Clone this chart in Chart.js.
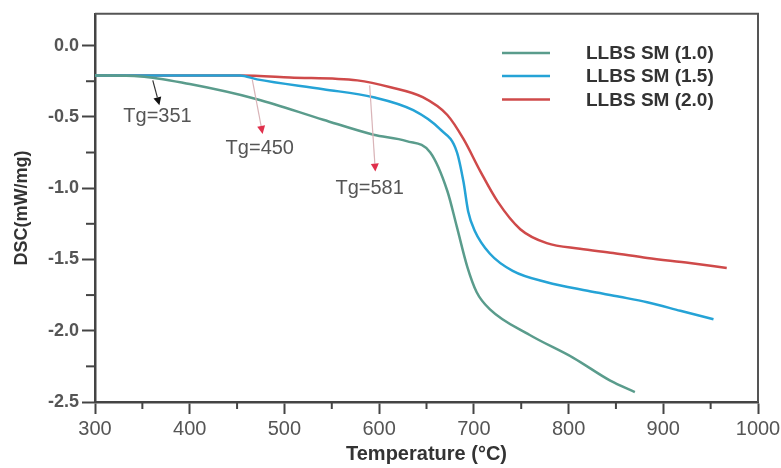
<!DOCTYPE html>
<html>
<head>
<meta charset="utf-8">
<title>DSC</title>
<script src="https://cdn.jsdelivr.net/npm/chart.js@4.4.0/dist/chart.umd.min.js"></script>
<style>
  html, body { margin: 0; padding: 0; background: #fff; }
</style>
</head>
<body>
<canvas id="dsc-chart" width="781" height="468"></canvas>
<script>
/* ── Data ─────────────────────────────────────────────────── */

const seriesLabels = ['LLBS SM (1.0)', 'LLBS SM (1.5)', 'LLBS SM (2.0)'];
const seriesColors = ['#5a9c8c', '#25a3d6', '#cf4a4a'];

// LLBS SM (1.0)
const temp10 = [300, 348, 400, 471, 541, 594, 629, 654, 672, 682, 693, 703, 717, 759, 805, 844, 870];
const dsc10  = [-0.21, -0.216, -0.27, -0.376, -0.52, -0.625, -0.67, -0.75, -1.02, -1.27, -1.55, -1.73, -1.85, -2.03, -2.19, -2.35, -2.43];

// LLBS SM (1.5)
const temp15 = [300, 453, 471, 541, 594, 636, 664, 682, 689, 694, 701, 717, 741, 777, 820, 854, 883, 918, 953];
const dsc15  = [-0.21, -0.21, -0.237, -0.306, -0.362, -0.453, -0.585, -0.745, -0.954, -1.163, -1.30, -1.46, -1.58, -1.66, -1.72, -1.762, -1.80, -1.86, -1.92];

// LLBS SM (2.0)
const temp20 = [300, 453, 506, 577, 612, 646, 672, 689, 707, 725, 749, 777, 812, 847, 883, 928, 967];
const dsc20  = [-0.21, -0.21, -0.223, -0.244, -0.292, -0.362, -0.487, -0.655, -0.884, -1.093, -1.288, -1.386, -1.425, -1.455, -1.49, -1.525, -1.56];

const xTicksMajor = [300, 400, 500, 600, 700, 800, 900, 1000];
const xTicksMinor = [350, 450, 550, 650, 750, 850, 950];
const yTicksMajor = [0, -0.5, -1.0, -1.5, -2.0, -2.5];
const yTicksMinor = [-0.25, -0.75, -1.25, -1.75, -2.25];

// Tg notes: label, arrow tail, arrow tip, text centre (data coords)
const tgLabels    = ['Tg=351', 'Tg=450', 'Tg=581'];
const tgArrowFrom = [[361, -0.244], [466, -0.237], [590, -0.279]];
const tgArrowTo   = [[368, -0.418], [477, -0.62], [596, -0.884]];
const tgTextAt    = [[366, -0.50], [474, -0.724], [590, -1.003]];

/* ── Helpers ──────────────────────────────────────────────── */

const FONT = '"Liberation Sans", Arial, sans-serif';

function toPoints(xs, ys) {
  return xs.map((x, i) => ({ x, y: ys[i] }));
}

function drawArrow(ctx, x1, y1, x2, y2, lineColor, headColor) {
  const ang = Math.atan2(y2 - y1, x2 - x1);
  const len = 8, half = 4;
  const bx = x2 - len * Math.cos(ang), by = y2 - len * Math.sin(ang);
  ctx.strokeStyle = lineColor;
  ctx.lineWidth = 1.2;
  ctx.beginPath();
  ctx.moveTo(x1, y1);
  ctx.lineTo(bx, by);
  ctx.stroke();
  ctx.fillStyle = headColor;
  ctx.beginPath();
  ctx.moveTo(x2, y2);
  ctx.lineTo(bx + half * Math.sin(ang), by - half * Math.cos(ang));
  ctx.lineTo(bx - half * Math.sin(ang), by + half * Math.cos(ang));
  ctx.closePath();
  ctx.fill();
}

/* ── Plugin: frame, minor ticks, Tg notes, legend ─────────── */

const decorPlugin = {
  id: 'decor',
  afterDraw(chart) {
    const { ctx, chartArea: a, scales } = chart;
    const xs = scales.x, ys = scales.y;
    ctx.save();

    // top + right frame
    ctx.strokeStyle = '#555';
    ctx.lineWidth = 2;
    ctx.beginPath();
    ctx.moveTo(a.left, a.top);
    ctx.lineTo(a.right, a.top);
    ctx.lineTo(a.right, a.bottom);
    ctx.stroke();

    // minor ticks
    ctx.strokeStyle = '#444';
    ctx.lineWidth = 2;
    xTicksMinor.forEach((v) => {
      const px = xs.getPixelForValue(v);
      ctx.beginPath();
      ctx.moveTo(px, a.bottom);
      ctx.lineTo(px, a.bottom + 7);
      ctx.stroke();
    });
    yTicksMinor.forEach((v) => {
      const py = ys.getPixelForValue(v);
      ctx.beginPath();
      ctx.moveTo(a.left, py);
      ctx.lineTo(a.left - 9, py);
      ctx.stroke();
    });

    // Tg notes
    tgLabels.forEach((label, i) => {
      const x1 = xs.getPixelForValue(tgArrowFrom[i][0]);
      const y1 = ys.getPixelForValue(tgArrowFrom[i][1]);
      const x2 = xs.getPixelForValue(tgArrowTo[i][0]);
      const y2 = ys.getPixelForValue(tgArrowTo[i][1]);
      if (i === 0) drawArrow(ctx, x1, y1, x2, y2, '#333', '#111');
      else drawArrow(ctx, x1, y1, x2, y2, '#d9b4b8', '#e0304c');
      ctx.fillStyle = '#555';
      ctx.font = '20px ' + FONT;
      ctx.textAlign = 'center';
      ctx.textBaseline = 'middle';
      ctx.fillText(label, xs.getPixelForValue(tgTextAt[i][0]), ys.getPixelForValue(tgTextAt[i][1]));
    });

    // legend
    const rowY = [53, 76, 99.5];
    chart.data.datasets.forEach((ds, i) => {
      ctx.strokeStyle = ds.borderColor;
      ctx.lineWidth = 2.5;
      ctx.beginPath();
      ctx.moveTo(502, rowY[i]);
      ctx.lineTo(550, rowY[i]);
      ctx.stroke();
      ctx.fillStyle = '#333';
      ctx.font = 'bold 19px ' + FONT;
      ctx.textAlign = 'left';
      ctx.textBaseline = 'middle';
      ctx.fillText(ds.label, 586, rowY[i] + 1);
    });

    ctx.restore();
  },
};

/* ── Chart ────────────────────────────────────────────────── */

const datasets = [
  { label: seriesLabels[0], data: toPoints(temp10, dsc10), borderColor: seriesColors[0] },
  { label: seriesLabels[1], data: toPoints(temp15, dsc15), borderColor: seriesColors[1] },
  { label: seriesLabels[2], data: toPoints(temp20, dsc20), borderColor: seriesColors[2] },
].map((ds) => ({
  ...ds,
  borderWidth: 2.5,
  pointRadius: 0,
  fill: false,
  cubicInterpolationMode: 'monotone',
}));

new Chart(document.getElementById('dsc-chart'), {
  type: 'line',
  data: { datasets },
  options: {
    responsive: false,
    animation: false,
    layout: { padding: { top: 11, right: 23, bottom: 0, left: 0 } },
    plugins: {
      legend: { display: false },
      tooltip: { enabled: false },
    },
    scales: {
      x: {
        type: 'linear',
        min: 300,
        max: 1000,
        afterBuildTicks: (scale) => { scale.ticks = xTicksMajor.map((v) => ({ value: v })); },
        afterFit: (scale) => {
          scale.height = 66;
          scale.paddingRight = 0;
        },
        grid: { drawOnChartArea: false, tickLength: 12, tickColor: '#444', tickWidth: 2 },
        border: { color: '#444', width: 2.5 },
        ticks: {
          color: '#555',
          padding: 3,
          maxRotation: 0,
          font: { family: FONT, size: 20 },
          callback: (v) => String(v),
        },
        title: {
          display: true,
          text: 'Temperature (°C)',
          color: '#333',
          padding: { top: 0, bottom: 2 },
          font: { family: FONT, size: 20, weight: 'bold' },
        },
      },
      y: {
        type: 'linear',
        min: -2.5,
        max: 0.223,
        afterBuildTicks: (scale) => { scale.ticks = yTicksMajor.map((v) => ({ value: v })); },
        afterFit: (scale) => { scale.width = 95; },
        grid: { drawOnChartArea: false, tickLength: 13, tickColor: '#444', tickWidth: 2 },
        border: { color: '#444', width: 2.5 },
        ticks: {
          color: '#555',
          padding: 3,
          font: { family: FONT, size: 18, weight: 'bold' },
          callback: (v) => Number(v).toFixed(1),
        },
        title: {
          display: true,
          text: 'DSC(mW/mg)',
          color: '#333',
          padding: { top: 11, bottom: 0 },
          font: { family: FONT, size: 18, weight: 'bold' },
        },
      },
    },
  },
  plugins: [decorPlugin],
});
</script>
</body>
</html>
